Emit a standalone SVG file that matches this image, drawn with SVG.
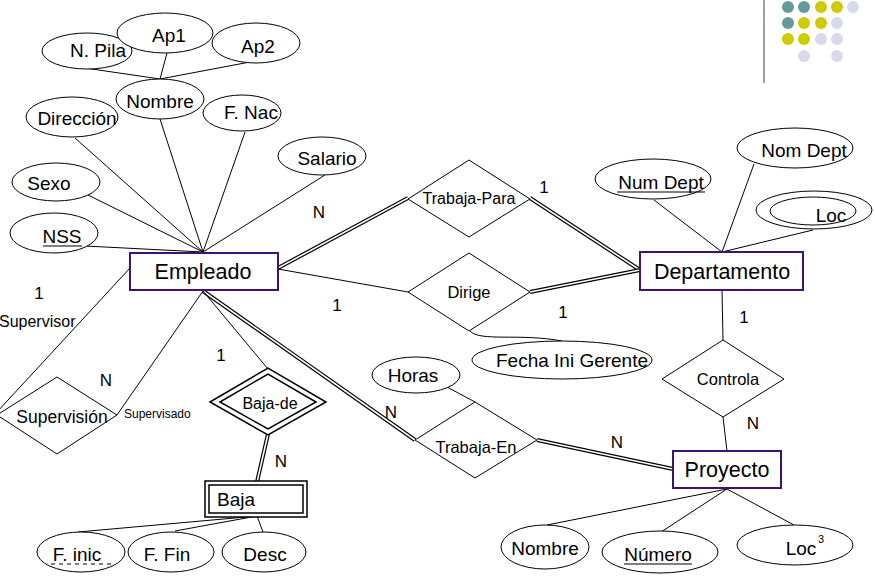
<svg xmlns="http://www.w3.org/2000/svg" width="875" height="578" viewBox="0 0 875 578">
<style>
text{font-family:"Liberation Sans",Arial,sans-serif;fill:#000}
.attr{font-size:19px;text-anchor:middle}
.ent{font-size:21.5px;text-anchor:middle}
.rel{font-size:16.5px;text-anchor:middle}
.card{font-size:17px;text-anchor:middle}
.ell{fill:#fff;stroke:#000;stroke-width:1}
.erect{fill:#fff;stroke:#3c1470;stroke-width:2}
.dia{fill:#fff;stroke:#000;stroke-width:1}
.ln{stroke:#000;stroke-width:1;fill:none}
.dblo{stroke:#000;stroke-width:4;fill:none}
.dbli{stroke:#fff;stroke-width:1.6;fill:none}
.ul{stroke:#000;stroke-width:1.2}
.teal{fill:#669999}.yel{fill:#cccc00}.lav{fill:#d9d9ec}
</style>
<rect width="875" height="578" fill="#fff"/>

<!-- decoration -->
<g id="decoration">
<line x1="764" y1="0" x2="764" y2="83" stroke="#808080" stroke-width="1.5"/>
<circle class="teal" cx="788" cy="7" r="6"/><circle class="teal" cx="804" cy="7" r="6"/><circle class="yel" cx="821" cy="7" r="6"/><circle class="yel" cx="837" cy="7" r="6"/><circle class="lav" cx="853" cy="7" r="6"/>
<circle class="teal" cx="788" cy="23" r="6"/><circle class="yel" cx="804" cy="23" r="6"/><circle class="yel" cx="821" cy="23" r="6"/><circle class="lav" cx="837" cy="23" r="6"/>
<circle class="yel" cx="788" cy="39" r="6"/><circle class="yel" cx="804" cy="39" r="6"/><circle class="lav" cx="821" cy="39" r="6"/><circle class="lav" cx="837" cy="39" r="6"/>
<circle class="lav" cx="804" cy="56" r="6"/><circle class="lav" cx="837" cy="56" r="6"/>
</g>

<!-- connectors -->
<g id="connectors">
<!-- Empleado attributes -->
<line class="ln" x1="85" y1="68" x2="160" y2="79"/>
<line class="ln" x1="167" y1="53" x2="160" y2="79"/>
<line class="ln" x1="250" y1="62" x2="160" y2="79"/>
<line class="ln" x1="75" y1="138" x2="203" y2="252"/>
<line class="ln" x1="160" y1="119" x2="203" y2="252"/>
<line class="ln" x1="245" y1="132" x2="203" y2="252"/>
<line class="ln" x1="325" y1="175" x2="203" y2="252"/>
<line class="ln" x1="88" y1="195" x2="203" y2="252"/>
<line class="ln" x1="85" y1="246" x2="203" y2="252"/>
<!-- Departamento attributes -->
<line class="ln" x1="654" y1="200" x2="722" y2="252"/>
<line class="ln" x1="754" y1="164" x2="722" y2="252"/>
<line class="ln" x1="813" y1="230" x2="722" y2="252"/>
<!-- Trabaja-Para -->
<line class="dblo" x1="278" y1="268" x2="408" y2="198"/>
<line class="dbli" x1="278" y1="268" x2="408" y2="198"/>
<line class="dblo" x1="530" y1="198" x2="640" y2="270"/>
<line class="dbli" x1="530" y1="198" x2="640" y2="270"/>
<!-- Dirige -->
<line class="ln" x1="278" y1="269" x2="408" y2="292"/>
<line class="dblo" x1="530" y1="292" x2="640" y2="270"/>
<line class="dbli" x1="530" y1="292" x2="640" y2="270"/>
<path class="ln" d="M470,331 C480,342 520,333 562,341"/>
<!-- Controla -->
<line class="ln" x1="722" y1="290" x2="723" y2="340"/>
<line class="ln" x1="723" y1="417" x2="727" y2="451"/>
<!-- Trabaja-En -->
<line class="dblo" x1="203" y1="291" x2="415" y2="440"/>
<line class="dbli" x1="203" y1="291" x2="415" y2="440"/>
<line class="dblo" x1="537" y1="440" x2="673" y2="469"/>
<line class="dbli" x1="537" y1="440" x2="673" y2="469"/>
<line class="ln" x1="447" y1="387" x2="475" y2="402"/>
<!-- Proyecto attributes -->
<line class="ln" x1="727" y1="489" x2="547" y2="525"/>
<line class="ln" x1="727" y1="489" x2="661" y2="532"/>
<line class="ln" x1="727" y1="489" x2="794" y2="525"/>
<!-- Supervisión -->
<line class="ln" x1="130" y1="268" x2="-3" y2="412"/>
<line class="ln" x1="203" y1="291" x2="117" y2="415"/>
<!-- Baja-de -->
<line class="ln" x1="203" y1="291" x2="268" y2="369"/>
<line class="dblo" x1="268" y1="434" x2="257" y2="482"/>
<line class="dbli" x1="268" y1="434" x2="257" y2="482"/>
<!-- Baja attributes -->
<line class="ln" x1="257" y1="516" x2="78" y2="532"/>
<line class="ln" x1="257" y1="516" x2="175" y2="531"/>
<line class="ln" x1="257" y1="516" x2="263" y2="532"/>
</g>

<!-- Empleado attributes -->
<g id="attr-npila"><ellipse class="ell" cx="87" cy="51" rx="45" ry="18"/><text class="attr" x="98" y="57">N. Pila</text></g>
<g id="attr-ap1"><ellipse class="ell" cx="165" cy="33" rx="48" ry="20"/><text class="attr" x="169" y="42">Ap1</text></g>
<g id="attr-ap2"><ellipse class="ell" cx="256" cy="43" rx="44" ry="20"/><text class="attr" x="258" y="53">Ap2</text></g>
<g id="attr-nombre"><ellipse class="ell" cx="160" cy="99" rx="44" ry="20"/><text class="attr" x="160" y="108">Nombre</text></g>
<g id="attr-direccion"><ellipse class="ell" cx="72" cy="117" rx="46" ry="20"/><text class="attr" x="77" y="125">Dirección</text></g>
<g id="attr-fnac"><ellipse class="ell" cx="242" cy="113" rx="39" ry="18"/><text class="attr" x="251" y="119">F. Nac</text></g>
<g id="attr-salario"><ellipse class="ell" cx="322" cy="156" rx="44" ry="19"/><text class="attr" x="327" y="165">Salario</text></g>
<g id="attr-sexo"><ellipse class="ell" cx="56" cy="182" rx="44" ry="19"/><text class="attr" x="49" y="190">Sexo</text></g>
<g id="attr-nss"><ellipse class="ell" cx="54" cy="233" rx="44" ry="20"/><text class="attr" x="62" y="243">NSS</text><line class="ul" x1="43" y1="246" x2="82" y2="246"/></g>

<!-- Departamento attributes -->
<g id="attr-numdept"><ellipse class="ell" cx="653" cy="179" rx="58" ry="20"/><text class="attr" x="661" y="189">Num Dept</text><line class="ul" x1="617" y1="192" x2="705" y2="192"/></g>
<g id="attr-nomdept"><ellipse class="ell" cx="795" cy="148" rx="58" ry="20"/><text class="attr" x="804" y="157">Nom Dept</text></g>
<g id="attr-loc"><ellipse class="ell" cx="814" cy="210" rx="58" ry="19"/><ellipse class="ell" cx="813" cy="211" rx="43" ry="14"/><text class="attr" x="831" y="222">Loc</text></g>

<!-- Entities -->
<g id="empleado"><rect class="erect" x="130" y="253" width="148" height="37"/><text class="ent" x="203" y="279">Empleado</text></g>
<g id="departamento"><rect class="erect" x="640" y="252" width="163" height="38"/><text class="ent" x="722" y="279">Departamento</text></g>
<g id="proyecto"><rect class="erect" x="673" y="451" width="108" height="37"/><text class="ent" x="727" y="477">Proyecto</text></g>
<g id="baja">
<rect x="205" y="481" width="102" height="36" fill="#fff" stroke="#000" stroke-width="1.5"/>
<rect x="209" y="485" width="94" height="28" fill="none" stroke="#000" stroke-width="1.5"/>
<text x="217" y="506" style="font-size:19px">Baja</text></g>

<!-- Relationships -->
<g id="trabaja-para"><polygon class="dia" points="408,199 469,160 530,199 469,237"/><text class="rel" x="469" y="204" style="font-size:16px">Trabaja-Para</text></g>
<g id="dirige"><polygon class="dia" points="408,292 469,253 530,292 469,331"/><text class="rel" x="469" y="298">Dirige</text></g>
<g id="controla"><polygon class="dia" points="662,379 723,340 784,379 723,417"/><text class="rel" x="728" y="385">Controla</text></g>
<g id="trabaja-en"><polygon class="dia" points="415,440 475,402 537,440 475,478"/><text class="rel" x="476" y="453">Trabaja-En</text></g>
<g id="supervision"><polygon class="dia" points="-3,415 57,377 117,415 57,454"/><text x="62" y="423" style="font-size:17.5px;text-anchor:middle">Supervisión</text></g>
<g id="baja-de">
<polygon points="210,402 268,368 326,402 268,435" fill="#fff" stroke="#000" stroke-width="1.5"/>
<polygon points="220,402 268,374 316,402 268,429" fill="none" stroke="#000" stroke-width="1.5"/>
<text class="rel" x="270" y="409" style="font-size:16px">Baja-de</text></g>

<!-- Relationship attributes -->
<g id="attr-fechaini"><ellipse class="ell" cx="562" cy="360" rx="90" ry="19"/><text class="attr" x="572" y="367">Fecha Ini Gerente</text></g>
<g id="attr-horas"><ellipse class="ell" cx="416" cy="375" rx="44" ry="18"/><text class="attr" x="413" y="382">Horas</text></g>

<!-- Proyecto attributes -->
<g id="attr-pnombre"><ellipse class="ell" cx="545" cy="547" rx="44" ry="22"/><text class="attr" x="545" y="555">Nombre</text></g>
<g id="attr-numero"><ellipse class="ell" cx="660" cy="552" rx="58" ry="21"/><text class="attr" x="658" y="561">Número</text><line class="ul" x1="624" y1="564" x2="692" y2="564"/></g>
<g id="attr-ploc"><ellipse class="ell" cx="795" cy="545" rx="58" ry="20"/><text class="attr" x="801" y="555">Loc</text><text x="821" y="543" style="font-size:11px;text-anchor:middle">3</text></g>

<!-- Baja attributes -->
<g id="attr-finic"><ellipse class="ell" cx="81" cy="552" rx="44" ry="20"/><text class="attr" x="77" y="561">F. inic</text><line class="ul" x1="51" y1="564" x2="111" y2="564" stroke-dasharray="4,4"/></g>
<g id="attr-ffin"><ellipse class="ell" cx="171" cy="552" rx="43" ry="20"/><text class="attr" x="167" y="561">F. Fin</text></g>
<g id="attr-desc"><ellipse class="ell" cx="264" cy="552" rx="42" ry="20"/><text class="attr" x="265" y="561">Desc</text></g>

<!-- Labels -->
<g id="labels">
<text class="card" x="319" y="218">N</text>
<text class="card" x="544" y="193">1</text>
<text class="card" x="337" y="311">1</text>
<text class="card" x="563" y="318">1</text>
<text class="card" x="39" y="299">1</text>
<text x="-1" y="327" style="font-size:16px">Supervisor</text>
<text class="card" x="106" y="386">N</text>
<text x="124" y="418" style="font-size:12px">Supervisado</text>
<text class="card" x="221" y="361">1</text>
<text class="card" x="281" y="467">N</text>
<text class="card" x="391" y="418">N</text>
<text class="card" x="617" y="448">N</text>
<text class="card" x="744" y="323">1</text>
<text class="card" x="753" y="429">N</text>
</g>
</svg>
